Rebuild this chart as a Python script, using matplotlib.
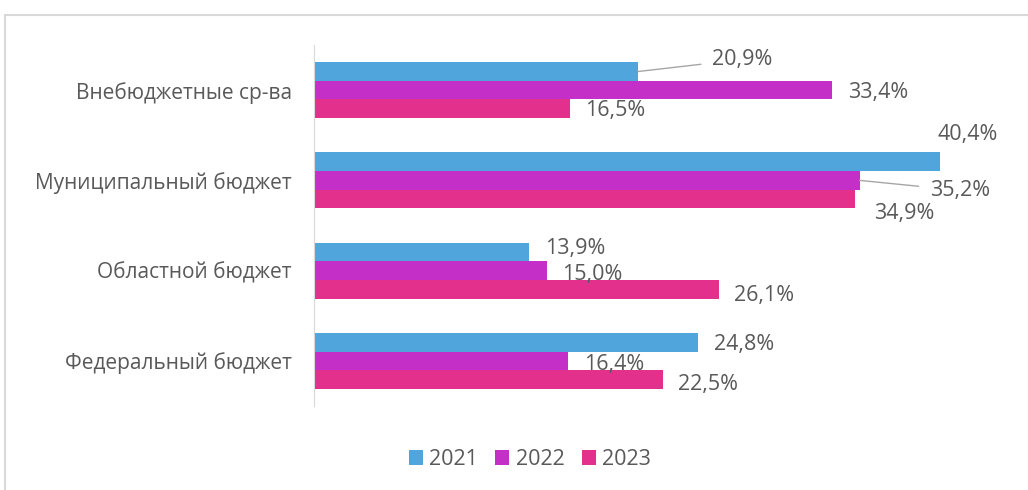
import matplotlib.pyplot as plt
from matplotlib.patches import Rectangle
import numpy as np

# data (bottom-to-top order, as the chart engine lays it out)
categories = ["Федеральный бюджет", "Областной бюджет", "Муниципальный бюджет", "Внебюджетные ср-ва"]
years = ["2021", "2022", "2023"]
v2021 = [24.8, 13.9, 40.4, 20.9]
v2022 = [16.4, 15.0, 35.2, 33.4]
v2023 = [22.5, 26.1, 34.9, 16.5]

colors = ["#4FA5DC", "#C42FC8", "#E2308C"]
text_col = "#595959"

# label offsets from bar end, in pixels (dx right, dy down), per series per category
offsets = {
    "2021": [(16, 0), (16, -6), (-3, -29), (74, -14)],
    "2022": [(16, 2), (16, 2), (70, 8), (16, 0)],
    "2023": [(15, 3), (15, 4), (19, 13), (15, 0)],
}
leaders = {("2021", 3), ("2022", 2)}
text_shift = 2  # px down, font baseline tweak

plt.rcParams['font.family'] = ['Open Sans', 'DejaVu Sans']
fs_cat = 15
fs_lab = 15.5

fig = plt.figure(figsize=(10.28, 4.9), dpi=100)
fig.patches.append(Rectangle((5 / 1028, -0.1), 1.2, (490 - 15) / 490 + 0.1,
                             transform=fig.transFigure, fill=False,
                             edgecolor="#D9D9D9", linewidth=1.5))
ax = fig.add_axes([314 / 1028, 84 / 490, 697.5 / 1028, 361 / 490])

y = np.arange(len(categories))
h = 0.206
series = [v2021, v2022, v2023]
for i, (yr, vals) in enumerate(zip(years, series)):
    pos = y + (1 - i) * h
    ax.barh(pos, vals, height=h, color=colors[i], label=yr)
    for j, v in enumerate(vals):
        dx, dy = offsets[yr][j]
        txt = f"{v:.1f}%".replace(".", ",")
        arrow = None
        if (yr, j) in leaders:
            arrow = dict(arrowstyle="-", color="#A6A6A6", lw=1, shrinkA=6, shrinkB=0)
        ax.annotate(txt, (v, pos[j]), xytext=(dx, -(dy + text_shift)),
                    textcoords="offset pixels", ha="left", va="center",
                    fontsize=fs_lab, color=text_col, arrowprops=arrow)

ax.set_xlim(0, 45)
ax.set_ylim(-0.5, 3.5)
ax.set_yticks(y)
ax.set_yticklabels(categories, fontsize=fs_cat, color=text_col)
ax.tick_params(axis="y", length=0, pad=16)
ax.set_xticks([])
for s in ["top", "right", "bottom"]:
    ax.spines[s].set_visible(False)
ax.spines["left"].set_color("#D9D9D9")

ax.legend(loc="center", bbox_to_anchor=(0.5155, 0.062), bbox_transform=fig.transFigure,
          ncol=3, frameon=False, fontsize=fs_lab, handlelength=0.65, handleheight=0.65,
          handletextpad=0.3, columnspacing=0.8, labelcolor=text_col)

fig.savefig("out.png", dpi=100)
